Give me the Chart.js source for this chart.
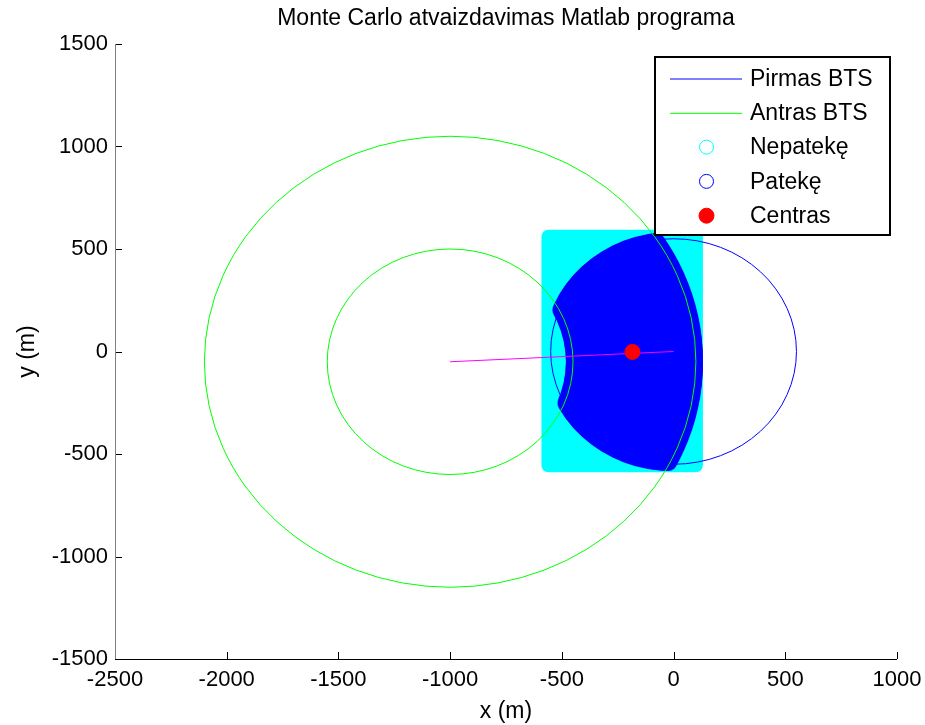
<!DOCTYPE html>
<html>
<head>
<meta charset="utf-8">
<script src="https://cdn.jsdelivr.net/npm/chart.js@4.4.0/dist/chart.umd.min.js"></script>
<style>
  html, body { margin: 0; padding: 0; background: #fff; }
  #wrap { width: 925px; height: 725px; }
</style>
</head>
<body>
<div id="wrap"><canvas id="mc"></canvas></div>
<script>
// Axis ranges and ticks
const xRange = [-2500, 1000];
const yRange = [-1500, 1500];
const tickStep = 500;

// Base stations (first = Pirmas BTS, second = Antras BTS)
const btsX = [0, -1000];
const btsY = [0, -50];
const bts1Radius = [550];
const bts2Radius = [550, 1100];

// Monte Carlo sampling window
const sampleX = [-560, 100];
const sampleY = [-555, 560];

// Centre of the hit points
const centerX = [-184];
const centerY = [-2];

const FONT = "'Liberation Sans', Arial, sans-serif";

// Ellipse in pixel space for a circle given in data units
const circlePath = (ctx, chart, cx, cy, r, ccw) => {
  const { x, y } = chart.scales;
  const X = x.getPixelForValue(cx), Y = y.getPixelForValue(cy);
  const rx = Math.abs(x.getPixelForValue(cx + r) - X);
  const ry = Math.abs(y.getPixelForValue(cy + r) - Y);
  ctx.moveTo(X + rx, Y);
  ctx.ellipse(X, Y, rx, ry, 0, 0, Math.PI * 2, !!ccw);
};

// Sample regions and the BTS rings, drawn under the datasets
const regionsPlugin = {
  id: 'regions',
  beforeDatasetsDraw(chart) {
    const ctx = chart.ctx;
    const { x, y } = chart.scales;
    const missSet = chart.data.datasets[2];
    const hitSet = chart.data.datasets[3];
    const m = missSet.pointRadius;

    const left = x.getPixelForValue(sampleX[0]);
    const right = x.getPixelForValue(sampleX[1]);
    const top = y.getPixelForValue(sampleY[1]);
    const bottom = y.getPixelForValue(sampleY[0]);

    // Nepateke points cover the whole window
    ctx.save();
    ctx.fillStyle = missSet.borderColor;
    ctx.beginPath();
    ctx.roundRect(left - m, top - m, right - left + 2 * m, bottom - top + 2 * m, m);
    ctx.fill();
    ctx.restore();

    // Pateke points: inside BTS1, inside big BTS2 ring, outside small BTS2 ring
    const off = document.createElement('canvas');
    off.width = chart.width;
    off.height = chart.height;
    const oc = off.getContext('2d');
    oc.beginPath();
    oc.rect(left, top, right - left, bottom - top);
    oc.clip();
    oc.beginPath();
    circlePath(oc, chart, btsX[0], btsY[0], bts1Radius[0]);
    oc.clip();
    oc.beginPath();
    circlePath(oc, chart, btsX[1], btsY[1], bts2Radius[1]);
    oc.clip();
    oc.beginPath();
    oc.rect(0, 0, off.width, off.height);
    circlePath(oc, chart, btsX[1], btsY[1], bts2Radius[0], true);
    oc.clip('evenodd');
    oc.fillStyle = hitSet.borderColor;
    oc.fillRect(0, 0, off.width, off.height);

    // grow the area by the marker radius
    const hm = hitSet.pointRadius;
    ctx.drawImage(off, 0, 0);
    for (let a = 0; a < 360; a += 15) {
      const t = a * Math.PI / 180;
      ctx.drawImage(off, hm * Math.cos(t), hm * Math.sin(t));
      ctx.drawImage(off, hm * 0.5 * Math.cos(t), hm * 0.5 * Math.sin(t));
    }

    // Rings
    ctx.save();
    ctx.lineWidth = 1;
    ctx.strokeStyle = chart.data.datasets[0].borderColor;
    bts1Radius.forEach(r => {
      ctx.beginPath();
      circlePath(ctx, chart, btsX[0], btsY[0], r);
      ctx.stroke();
    });
    ctx.strokeStyle = chart.data.datasets[1].borderColor;
    bts2Radius.forEach(r => {
      ctx.beginPath();
      circlePath(ctx, chart, btsX[1], btsY[1], r);
      ctx.stroke();
    });
    ctx.restore();
  }
};

// Axis lines with inward ticks, and the boxed legend
const axesLegendPlugin = {
  id: 'axesLegend',
  afterDraw(chart) {
    const ctx = chart.ctx;
    const { left, right, top, bottom } = chart.chartArea;
    const { x, y } = chart.scales;
    ctx.save();
    ctx.lineWidth = 1;

    ctx.strokeStyle = '#000';
    ctx.beginPath();
    ctx.moveTo(left, bottom + 0.5);
    ctx.lineTo(right, bottom + 0.5);
    x.ticks.forEach(t => {
      const p = Math.round(x.getPixelForValue(t.value)) + 0.5;
      ctx.moveTo(p, bottom);
      ctx.lineTo(p, bottom - 7);
    });
    y.ticks.forEach(t => {
      const p = Math.round(y.getPixelForValue(t.value)) + 0.5;
      ctx.moveTo(left, p);
      ctx.lineTo(left + 7, p);
    });
    ctx.stroke();

    ctx.strokeStyle = '#808080';
    ctx.beginPath();
    ctx.moveTo(left + 0.5, top);
    ctx.lineTo(left + 0.5, bottom);
    ctx.stroke();

    // legend box
    const bx = right - 242, by = top + 13, bw = 235, bh = 178;
    ctx.fillStyle = '#fff';
    ctx.fillRect(bx, by, bw, bh);
    ctx.strokeStyle = '#000';
    ctx.lineWidth = 2;
    ctx.strokeRect(bx, by, bw, bh);

    ctx.font = '23px ' + FONT;
    ctx.textBaseline = 'middle';
    ctx.textAlign = 'left';
    const items = chart.data.datasets.filter(d => d.label);
    items.forEach((d, i) => {
      const ry = by + 21.5 + i * 34.3;
      ctx.lineWidth = 1;
      if (d.legendLine) {
        ctx.strokeStyle = d.borderColor;
        ctx.beginPath();
        ctx.moveTo(bx + 15, ry + 0.5);
        ctx.lineTo(bx + 87, ry + 0.5);
        ctx.stroke();
      } else {
        ctx.beginPath();
        ctx.arc(bx + 51.5, ry, d.pointRadius, 0, Math.PI * 2);
        if (d.backgroundColor !== 'transparent') {
          ctx.fillStyle = d.backgroundColor;
          ctx.fill();
        }
        ctx.strokeStyle = d.borderColor;
        ctx.stroke();
      }
      ctx.fillStyle = '#000';
      ctx.fillText(d.label, bx + 95, ry + 1);
    });
    ctx.restore();
  }
};

new Chart(document.getElementById('mc'), {
  type: 'scatter',
  data: {
    datasets: [
      { label: 'Pirmas BTS', type: 'line', data: [], borderColor: '#0000ff', legendLine: true },
      { label: 'Antras BTS', type: 'line', data: [], borderColor: '#00ff00', legendLine: true },
      { label: 'Nepatekę', data: [], borderColor: '#00ffff', backgroundColor: 'transparent', pointRadius: 7 },
      { label: 'Patekę', data: [], borderColor: '#0000ff', backgroundColor: 'transparent', pointRadius: 7 },
      {
        label: 'Centras',
        data: centerX.map((v, i) => ({ x: v, y: centerY[i] })),
        borderColor: '#ff0000', backgroundColor: '#ff0000',
        pointRadius: 7.5, borderWidth: 1
      },
      {
        label: '',
        type: 'line',
        data: btsX.map((v, i) => ({ x: v, y: btsY[i] })).reverse(),
        borderColor: '#ff00ff', borderWidth: 1, pointRadius: 0
      }
    ]
  },
  options: {
    responsive: true,
    maintainAspectRatio: false,
    animation: false,
    events: [],
    layout: { padding: { top: 0, right: 28, left: 0, bottom: 0 } },
    plugins: {
      legend: { display: false },
      tooltip: { enabled: false },
      title: {
        display: true,
        fullSize: false,
        text: 'Monte Carlo atvaizdavimas Matlab programa',
        color: '#000',
        font: { family: FONT, size: 23, weight: 'normal' },
        padding: { top: 5, bottom: 11.4 }
      }
    },
    scales: {
      x: {
        type: 'linear',
        min: xRange[0], max: xRange[1],
        grid: { display: false, drawTicks: false },
        border: { display: false },
        ticks: {
          stepSize: tickStep, color: '#000', padding: 8,
          font: { family: FONT, size: 22 },
          callback: v => String(v)
        },
        title: { display: true, text: 'x (m)', color: '#000', padding: { top: 0, bottom: 0 }, font: { family: FONT, size: 23 } },
        afterFit(scale) {
          scale.height = 66;
          scale.paddingLeft = 0;
          scale.paddingRight = 0;
        }
      },
      y: {
        type: 'linear',
        min: yRange[0], max: yRange[1],
        grid: { display: false, drawTicks: false },
        border: { display: false },
        ticks: {
          stepSize: tickStep, color: '#000', padding: 7,
          font: { family: FONT, size: 22 },
          callback: v => String(v)
        },
        title: { display: true, text: 'y (m)', color: '#000', padding: { top: 14, bottom: 0 }, font: { family: FONT, size: 23 } },
        afterFit(scale) {
          scale.width = 115;
          scale.paddingTop = 0;
          scale.paddingBottom = 0;
        }
      }
    }
  },
  plugins: [regionsPlugin, axesLegendPlugin]
});
</script>
</body>
</html>
